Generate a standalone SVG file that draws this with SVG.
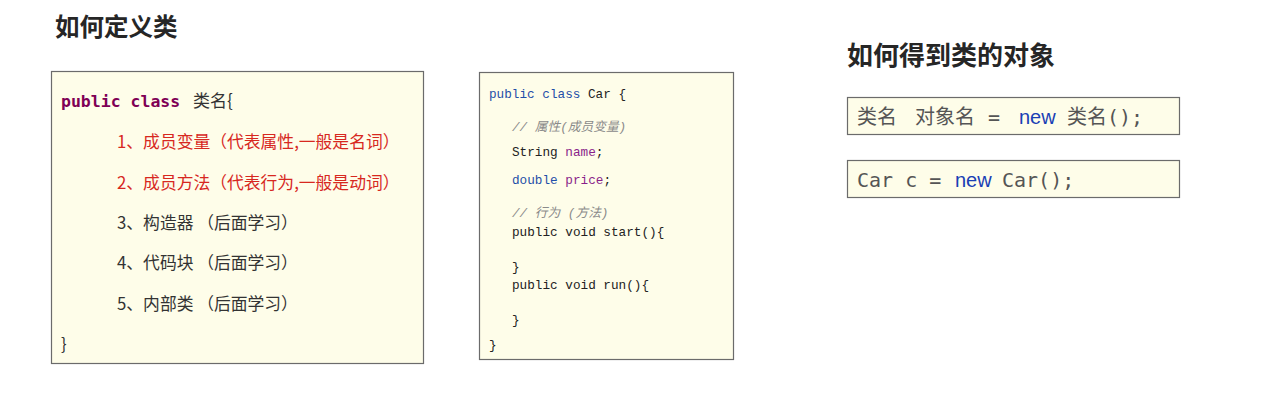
<svg xmlns="http://www.w3.org/2000/svg" width="1263" height="403" viewBox="0 0 1263 403">
<style>
.box{fill:#fefde9;stroke:#6b6b6b;stroke-width:1.2}
.title{font-family:"Noto Sans CJK SC","Noto Sans",sans-serif;font-weight:bold;fill:#262626}
.mono{font-family:"DejaVu Sans Mono","Liberation Mono","Noto Sans CJK SC",monospace}
.cn{font-family:"Noto Sans CJK SC",sans-serif;font-size:16.8px;fill:#333}
.red{fill:#d7281f}
.kw{fill:#7f0055;font-weight:bold}
.blue{fill:#1f4fa8}
.code{font-family:"Liberation Mono","DejaVu Sans Mono","Noto Sans CJK SC",monospace;font-size:12.7px;fill:#222}
.cm{fill:#8a8a8a;font-style:italic}
.pur{fill:#8a1f8a}
.big{font-family:"DejaVu Sans Mono","Noto Sans CJK SC",monospace;font-size:20px;fill:#555}
.nw{font-family:"Liberation Sans","Noto Sans",sans-serif;fill:#1a3fb5}
</style>
<rect width="1263" height="403" fill="#ffffff"/>
<g id="title1"><text class="title" x="55" y="36" font-size="24.5">如何定义类</text></g>
<g id="title2"><text class="title" x="847" y="65" font-size="26">如何得到类的对象</text></g>
<g id="classDef">
<rect class="box" x="51.5" y="71.5" width="372" height="292"/>
<text x="61" y="107" class="mono" font-size="16.5"><tspan class="kw">public class</tspan><tspan x="193" font-family="Noto Sans CJK SC,sans-serif" fill="#333" font-size="17">类名{</tspan></text>
<text class="cn red" x="117" y="148">1、成员变量（代表属性,一般是名词）</text>
<text class="cn red" x="117" y="189">2、成员方法（代表行为,一般是动词）</text>
<text class="cn" x="117" y="229">3、构造器 （后面学习）</text>
<text class="cn" x="117" y="269">4、代码块 （后面学习）</text>
<text class="cn" x="117" y="310">5、内部类 （后面学习）</text>
<text class="cn" x="61" y="350">}</text>
</g>
<g id="carClass">
<rect class="box" x="479.5" y="72.5" width="254" height="287"/>
<text class="code" x="489" y="98"><tspan class="blue">public class</tspan> Car {</text>
<text class="code cm" x="512" y="131" font-family="Noto Sans CJK SC,sans-serif" font-size="14">// 属性(成员变量)</text>
<text class="code" x="512" y="156">String <tspan class="pur">name</tspan>;</text>
<text class="code" x="512" y="184"><tspan class="blue">double</tspan> <tspan class="pur">price</tspan>;</text>
<text class="code cm" x="512" y="217" font-family="Noto Sans CJK SC,sans-serif" font-size="14">// 行为 (方法)</text>
<text class="code blue" x="512" y="236">public void start<tspan fill="#222">(){</tspan></text>
<text class="code" x="512" y="271">}</text>
<text class="code blue" x="512" y="289">public void run<tspan fill="#222">(){</tspan></text>
<text class="code" x="512" y="324">}</text>
<text class="code" x="489" y="349">}</text>
</g>
<g id="syntax">
<rect class="box" x="847.5" y="97.5" width="332" height="37"/>
<text class="big" y="124"><tspan x="857">类名</tspan><tspan x="915">对象名</tspan><tspan x="988">=</tspan><tspan x="1019" class="nw">new</tspan><tspan x="1067">类名();</tspan></text>
</g>
<g id="example">
<rect class="box" x="847.5" y="160.5" width="332" height="37"/>
<text class="big" y="187" fill="#333"><tspan x="857">Car c =</tspan><tspan x="955" class="nw">new</tspan><tspan x="1002">Car();</tspan></text>
</g>
<g id="connectors"></g>
</svg>
